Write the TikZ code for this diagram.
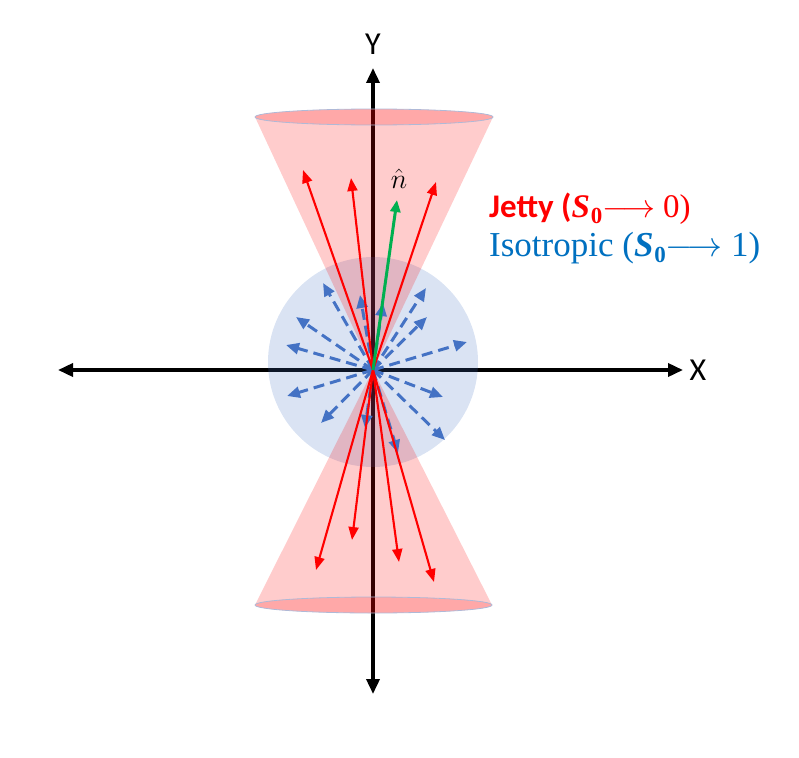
\RequirePackage{fix-cm}
\documentclass[tikz,border=0pt]{standalone}
\usepackage{amsmath}
\usepackage{amssymb}
\usepackage{fontspec}
\setsansfont{Carlito}
\newfontfamily\isofont{Liberation Serif}
\usetikzlibrary{arrows.meta}

\definecolor{isoblue}{RGB}{68,114,196}
\definecolor{txtblue}{RGB}{0,112,192}
\definecolor{jetgreen}{RGB}{0,176,80}
\definecolor{rimgray}{RGB}{175,185,215}

\newcommand{\szero}{{\isofont\bfseries\itshape S\kern1pt}\raisebox{-6pt}{\isofont\bfseries\fontsize{23}{25}\selectfont 0}}

\tikzset{
	axis/.style={line width=3.5pt, {Triangle[length=15pt,width=13pt]}-{Triangle[length=15pt,width=13pt]}},
	jet/.style={red, line width=2.1pt, -{Triangle[length=13pt,width=10pt]}},
	iso/.style={isoblue, line width=3pt, dash pattern=on 11pt off 6pt, -{Triangle[length=13pt,width=11pt]}},
	cone/.style={fill=red, fill opacity=0.2},
	rim/.style={fill=red, fill opacity=0.34, draw=rimgray, line width=0.8pt},
	lbl/.style={font=\sffamily\fontsize{32}{36}\selectfont},
}

\begin{document}
\begin{tikzpicture}[x=1pt,y=-1pt]
	\useasboundingbox (0,0) rectangle (799,757);

	\coordinate (O) at (373,370);
	\coordinate (xl) at (58,370);
	\coordinate (xr) at (683,370);
	\coordinate (yt) at (373,68);
	\coordinate (yb) at (373,694);
	\node[lbl] (X) at (698,370) {X};
	\node[lbl] (Y) at (373,44) {Y};

	\path [axis] (xl) edge (xr);
	\path [axis] (yb) edge (yt);

	\fill[isoblue, fill opacity=0.2] (373,362) circle[radius=105pt];

	\fill[cone] (255,117) -- (O) -- (493,117) arc[start angle=0, end angle=-180, x radius=119pt, y radius=8pt] -- cycle;
	\path[rim] (374,117) ellipse[x radius=119pt, y radius=8pt];
	\fill[cone] (255,605) -- (O) -- (492,605) arc[start angle=0, end angle=180, x radius=118.5pt, y radius=8pt] -- cycle;
	\path[rim] (373.5,605) ellipse[x radius=118.5pt, y radius=8pt];

	\coordinate (b1) at (323,283);
	\coordinate (b2) at (360,295);
	\coordinate (b3) at (383,303);
	\coordinate (b4) at (426,288);
	\coordinate (b5) at (427,317);
	\coordinate (b6) at (467,342);
	\coordinate (b7) at (443,397);
	\coordinate (b8) at (445,440);
	\coordinate (b9) at (398,453);
	\coordinate (b10) at (365,428);
	\coordinate (b11) at (321,423);
	\coordinate (b12) at (287,396);
	\coordinate (b13) at (286,345);
	\coordinate (b14) at (296,317);
	\foreach \i in {1,...,14}
		\path [iso] (O) edge (b\i);

	\coordinate (u1) at (303,170);
	\coordinate (u2) at (351,178);
	\coordinate (u3) at (436,182);
	\coordinate (d1) at (316,570);
	\coordinate (d2) at (352,540);
	\coordinate (d3) at (399,562);
	\coordinate (d4) at (434,582);
	\foreach \t in {u1,u2,u3,d1,d2,d3,d4}
		\path [jet] (O) edge (\t);

	\coordinate (nt) at (397,200);
	\path [jetgreen, line width=3pt, -{Triangle[length=12pt,width=10pt]}] (O) edge (nt);
	\node[inner sep=0pt] (nhat) at (399,179) {\fontsize{28}{30}\selectfont$\hat{n}$};

	\node[anchor=west, text=red, inner sep=0pt] (jetty) at (489,209)
		{\sffamily\bfseries\fontsize{33}{36}\selectfont Jetty (\szero$\longrightarrow$ {\isofont\mdseries 0)}};
	\node[anchor=west, text=txtblue, inner sep=0pt] (isotropic) at (489,248)
		{\isofont\fontsize{35}{38}\selectfont Isotropic (\szero$\longrightarrow$ 1)};
\end{tikzpicture}
\end{document}
